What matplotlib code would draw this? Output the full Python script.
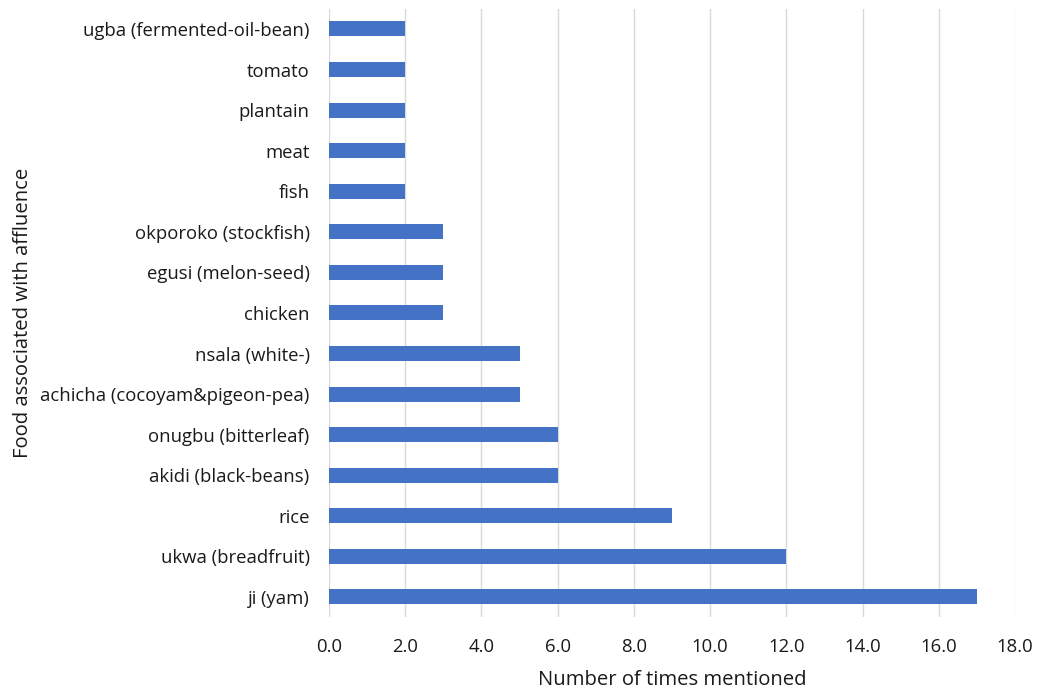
import matplotlib.pyplot as plt

plt.rcParams['font.family'] = ['Open Sans', 'DejaVu Sans']

foods = ["ji (yam)", "ukwa (breadfruit)", "rice", "akidi (black-beans)",
         "onugbu (bitterleaf)", "achicha (cocoyam&pigeon-pea)", "nsala (white-)",
         "chicken", "egusi (melon-seed)", "okporoko (stockfish)", "fish", "meat",
         "plantain", "tomato", "ugba (fermented-oil-bean)"]
counts = [17, 12, 9, 6, 6, 5, 5, 3, 3, 3, 2, 2, 2, 2, 2]
xticks = [0, 2, 4, 6, 8, 10, 12, 14, 16, 18]

fig = plt.figure(figsize=(10.37, 6.91), dpi=100)
ax = fig.add_axes([0.3173, 0.1067, 0.6615, 0.8807])

ax.barh(range(len(foods)), counts, height=0.37, color="#4472C4", zorder=3)
ax.set_yticks(range(len(foods)))
ax.set_yticklabels(foods, fontsize=13.3, color="#1a1a1a")
ax.set_ylim(-0.5, len(foods) - 0.5)
ax.set_xlim(0, 18)
ax.set_xticks(xticks)
ax.set_xticklabels([f"{v:.1f}" for v in xticks], fontsize=13.3, color="#1a1a1a")
ax.xaxis.grid(True, color="#D9D9D9", linewidth=1)
ax.tick_params(axis="y", length=0, pad=14)
ax.tick_params(axis="x", length=0, pad=15)
for s in ax.spines.values():
    s.set_visible(False)

ax.set_xlabel("Number of times mentioned", fontsize=14.6, labelpad=10, color="#1a1a1a")
ax.set_ylabel("Food associated with affluence", fontsize=14.6, color="#1a1a1a")
ax.yaxis.set_label_coords(-0.431, 0.5)

fig.savefig("out.png", dpi=100)
